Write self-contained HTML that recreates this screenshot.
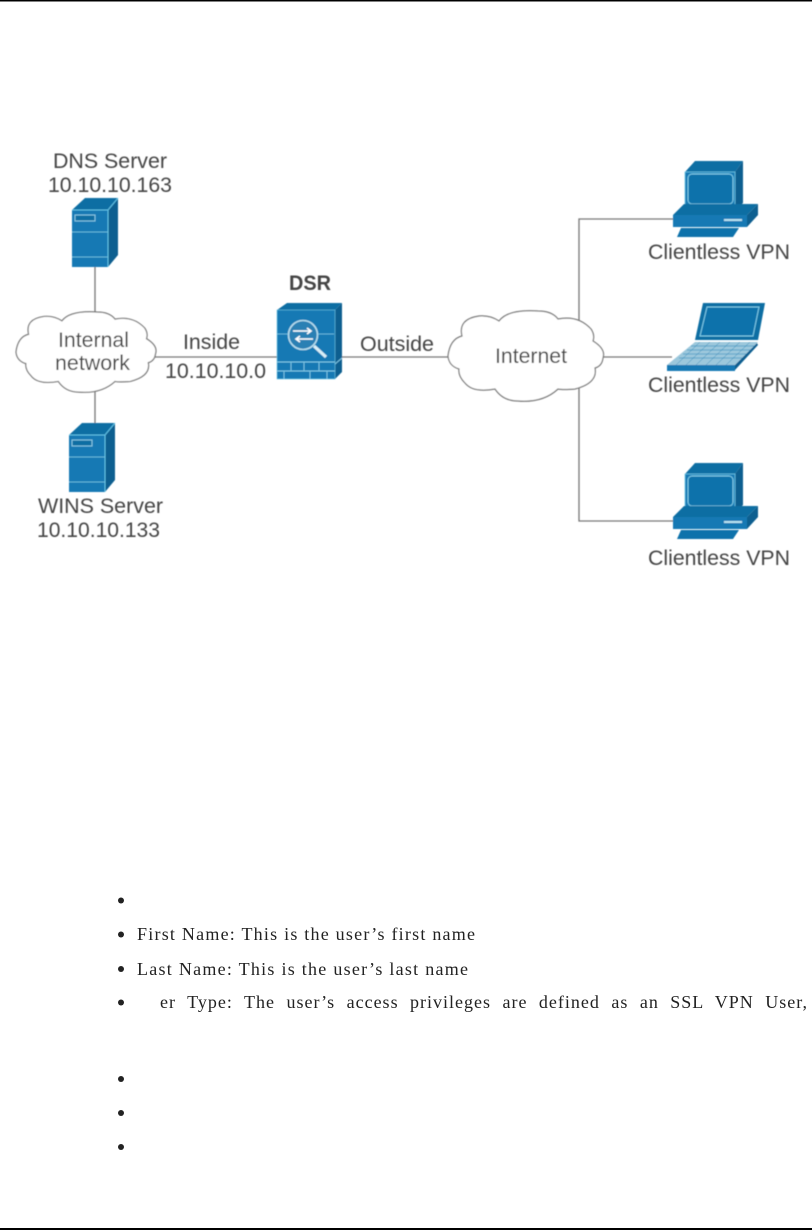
<!DOCTYPE html>
<html>
<head>
<meta charset="utf-8">
<style>
html,body{margin:0;padding:0;background:#fff}
svg{display:block}
.d text{font-family:"Liberation Sans",sans-serif;font-size:21px;fill:#444}
.b text{font-family:"Liberation Serif",serif;font-size:18px;fill:#222}
</style>
</head>
<body>
<svg width="812" height="1230" viewBox="0 0 812 1230" xmlns="http://www.w3.org/2000/svg">
<defs>
<filter id="bl" x="-2%" y="-2%" width="104%" height="104%"><feGaussianBlur stdDeviation="0.5"/></filter>
<path id="cloud" vector-effect="non-scaling-stroke" d="M0 45 Q2 28 14 25 Q10 8 31 5 Q42 4 51 10 Q60 -2 90 0 Q104 0 110 8 Q130 4 143 18 Q147 24 145 30 Q158 38 155 47 Q154 55 147 57 Q150 72 127 78 Q115 79 110 78 Q95 92 70 90 Q55 90 47 78 Q25 82 17 72 Q10 65 11 58 Q1 55 0 45 Z" fill="#fff" stroke="#777" stroke-width="1.2"/>
<g id="server">
<polygon points="0,12 13,0 46,0 36,12" fill="#0f6ea3"/>
<polygon points="36,12 46,0 46,57 36,69" fill="#0b5f90"/>
<rect x="0" y="12" width="36" height="57" fill="#1279b4"/>
<path d="M36 12V69M0 12H36M36 12L46 0" stroke="#5fc3e6" stroke-width="1" fill="none"/>
<path d="M0 34H36M0 59H36" stroke="#7fcbe8" stroke-width="0.8" fill="none"/>
<rect x="3" y="17" width="20" height="6" fill="#0f6ea3" stroke="#8fd0ea" stroke-width="0.9"/>
</g>
<g id="pc">
<polygon points="685,172 695,161 743,161 735,172" fill="#0f6ea3"/>
<polygon points="735,172 743,161 743,203 735,210" fill="#0b5f90"/>
<rect x="685" y="172" width="50" height="38" fill="#1279b4" stroke="#6cc6e6" stroke-width="0.8"/>
<rect x="688" y="174" width="45" height="30" rx="4" fill="#1172ab" stroke="#7fcfea" stroke-width="1"/>
<polygon points="673,215 684,204 758,204 747,215" fill="#0f6ea3"/>
<polygon points="747,215 758,204 758,215 747,227" fill="#0b5f90"/>
<rect x="673" y="215" width="74" height="12" fill="#1279b4"/>
<rect x="724" y="219" width="18" height="2" fill="#b8e2f2"/>
<polygon points="677,237 681,228 739,228 733,237" fill="#1172ab"/>
</g>
</defs>

<rect x="0" y="0" width="812" height="1.5" fill="#000"/>

<g filter="url(#bl)">
<g stroke="#777" stroke-width="1.3" fill="none">
<path d="M95 267V330M95 370V425"/>
<path d="M140 357H278M341 357H470"/>
<path d="M590 357H672"/>
<path d="M579 335V219H674"/>
<path d="M579 380V521H674"/>
</g>

<use href="#cloud" transform="translate(16 312) scale(0.9 0.89)"/>
<use href="#cloud" transform="translate(448 311) scale(1 1)"/>

<use href="#server" x="72" y="198"/>
<use href="#server" x="69" y="423"/>

<!-- DSR -->
<polygon points="277,310 287,303 342,303 335,310" fill="#0f6ea3"/>
<polygon points="335,310 342,303 342,372 335,379" fill="#0b5f90"/>
<rect x="277" y="310" width="58" height="69" fill="#1279b4" stroke="#6cc6e6" stroke-width="0.6"/>
<path d="M277 334H334" stroke="#7fcbe8" stroke-width="0.8"/>
<circle cx="303" cy="335" r="14.5" fill="#2a80b4" stroke="#b4dced" stroke-width="1.6"/>
<path d="M293 331H311M307 328L311 331L307 334M313 339H296M300 336L296 339L300 342" stroke="#fff" stroke-width="1.6" fill="none"/>
<path d="M314 346L326 357" stroke="#d8eef7" stroke-width="3.2"/>
<path d="M277 362H335M277 371H335M291 362V371M304 362V371M319 362V371M284 371V379M310 371V379M327 371V379M335 364L342 358" stroke="#7fcbe8" stroke-width="0.9" fill="none"/>

<!-- PCs -->
<use href="#pc"/>
<use href="#pc" y="302"/>

<!-- Laptop -->
<polygon points="703,303 765,303 758,340 695,340" fill="#0f6ea3"/>
<polygon points="707,307 759,307 753,336 700,336" fill="#1172ab" stroke="#7fcfea" stroke-width="1"/>
<polygon points="695,342 758,342 735,365 667,365" fill="#9cc8dc"/>
<g stroke="#1f84b8" stroke-width="0.5">
<path d="M691 346H754M687 350H750M683 354H746M679 358H742"/>
<path d="M700 342L676 365M710 342L686 365M720 342L696 365M730 342L706 365M740 342L716 365M750 342L726 365"/>
</g>
<polygon points="758,345 735,370 735,365 757,343" fill="#0b5f90"/>
<rect x="667" y="365" width="68" height="6" fill="#1279b4"/>

<g class="d">
<text x="53" y="168" textLength="114" lengthAdjust="spacingAndGlyphs">DNS Server</text>
<text x="48" y="192" textLength="124" lengthAdjust="spacingAndGlyphs">10.10.10.163</text>
<text x="58" y="347" textLength="71" lengthAdjust="spacingAndGlyphs">Internal</text>
<text x="55" y="370" textLength="75" lengthAdjust="spacingAndGlyphs">network</text>
<text x="183" y="349" textLength="57" lengthAdjust="spacingAndGlyphs">Inside</text>
<text x="165" y="378" textLength="101" lengthAdjust="spacingAndGlyphs">10.10.10.0</text>
<text x="289" y="290" textLength="42" lengthAdjust="spacingAndGlyphs" font-weight="bold">DSR</text>
<text x="360" y="351" textLength="74" lengthAdjust="spacingAndGlyphs">Outside</text>
<text x="495" y="363" textLength="72" lengthAdjust="spacingAndGlyphs">Internet</text>
<text x="38" y="513" textLength="125" lengthAdjust="spacingAndGlyphs">WINS Server</text>
<text x="37" y="537" textLength="123" lengthAdjust="spacingAndGlyphs">10.10.10.133</text>
<text x="648" y="259" textLength="142" lengthAdjust="spacingAndGlyphs">Clientless VPN</text>
<text x="648" y="392" textLength="142" lengthAdjust="spacingAndGlyphs">Clientless VPN</text>
<text x="648" y="565" textLength="142" lengthAdjust="spacingAndGlyphs">Clientless VPN</text>
</g>
</g>

<g fill="#222">
<circle cx="121" cy="900.5" r="3"/>
<circle cx="121" cy="934.5" r="3"/>
<circle cx="121" cy="969" r="3"/>
<circle cx="121" cy="1002.5" r="3"/>
<circle cx="121" cy="1079" r="3"/>
<circle cx="121" cy="1113" r="3"/>
<circle cx="121" cy="1147" r="3"/>
</g>
<g class="b">
<text x="137" y="940" textLength="338" lengthAdjust="spacing">First Name: This is the user’s first name</text>
<text x="137" y="975" textLength="331" lengthAdjust="spacing">Last Name: This is the user’s last name</text>
<text x="160" y="1008" textLength="647" lengthAdjust="spacing" style="word-spacing:6px">er Type: The user’s access privileges are defined as an SSL VPN User,</text>
</g>

<rect x="0" y="1228" width="812" height="2" fill="#000"/>
</svg>
</body>
</html>
